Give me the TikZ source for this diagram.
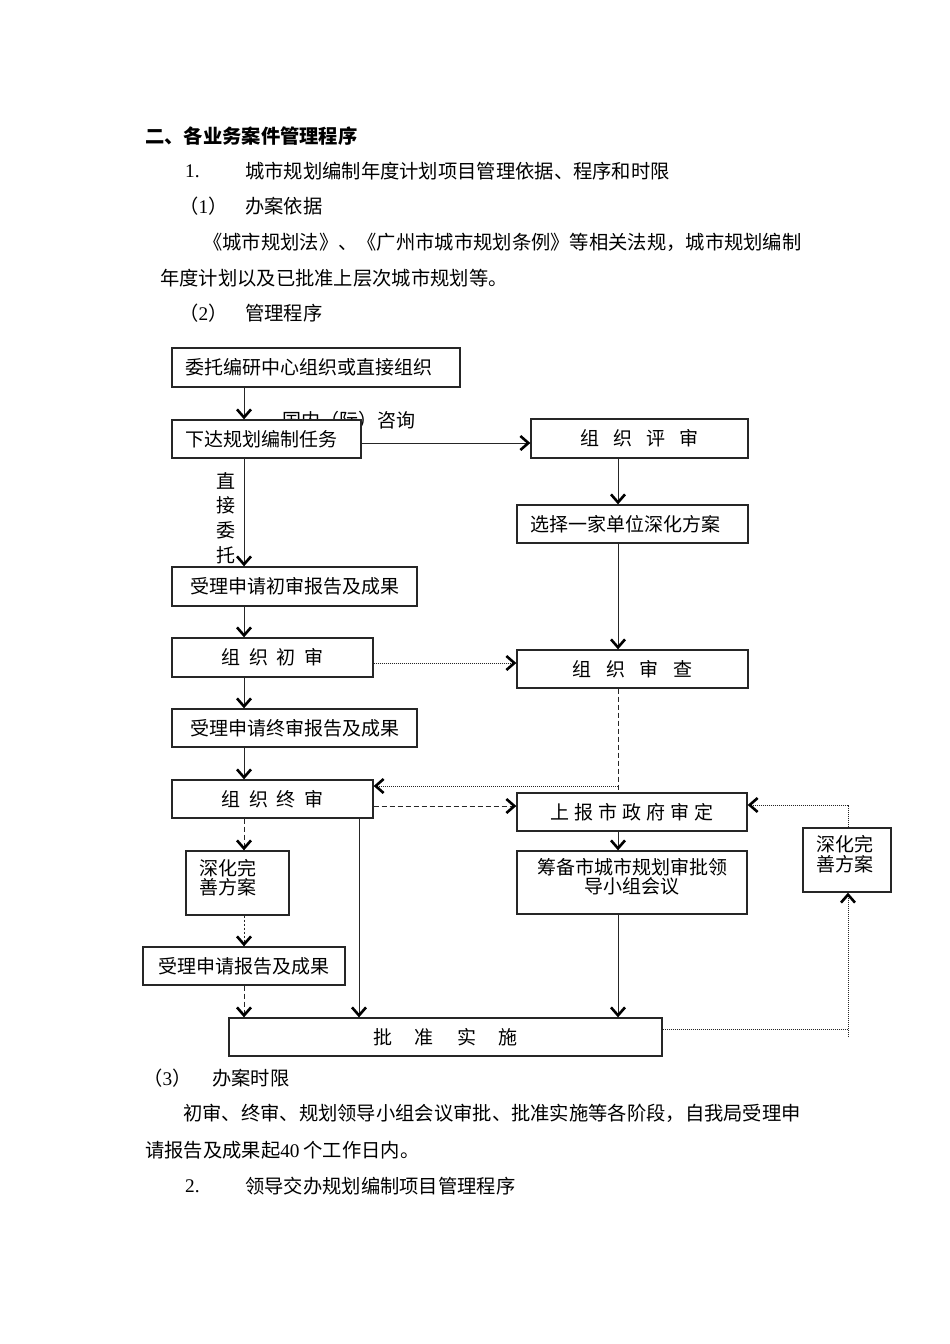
\documentclass[tikz,border=0pt]{standalone}
\usepackage{fontspec}
\setmainfont{Noto Sans CJK SC}
\newfontfamily\lat{Liberation Serif}
\usetikzlibrary{arrows.meta}
\begin{document}
\begin{tikzpicture}[x=1pt,y=-1pt,
  box/.style={draw=black!85,line width=1.3pt,fill=white,inner sep=0pt,font=\fontsize{19}{22}\selectfont},
  txt/.style={inner sep=0pt,font=\fontsize{19}{22}\selectfont},
  body/.style={inner sep=0pt,anchor=west,font=\fontsize{19.3}{22}\selectfont},
  two/.style={inner sep=0pt,font=\fontsize{19}{19.5}\selectfont},
  con/.style={draw=black!85,line width=1pt},
  arr/.style={-{Straight Barb[length=8pt,width=14pt,line width=2.6pt 0,black]}},
  fdot/.style={dash pattern=on 1pt off 1pt,line width=0.9pt},
  fdottwo/.style={dash pattern=on 2pt off 2pt,line width=0.9pt},
  ldash/.style={dash pattern=on 5pt off 3pt}]
\path[use as bounding box,fill=white] (0,0) rectangle (950,1344);

% ---------- body text ----------
\node[body,font=\fontsize{19.3}{22}\selectfont\bfseries] (t0) at (145,136) {二、各业务案件管理程序};
\node[body] (t1n) at (185,171) {{\lat 1.}};
\node[body] (t1) at (245,171) {城市规划编制年度计划项目管理依据、程序和时限};
\node[body] (t2n) at (179,206) {（{\lat 1}）};
\node[body] (t2) at (245,206) {办案依据};
\node[body] (t3) at (203,242) {《城市规划法》、《广州市城市规划条例》等相关法规，城市规划编制};
\node[body] (t4) at (160,278) {年度计划以及已批准上层次城市规划等。};
\node[body] (t5n) at (179,313) {（{\lat 2}）};
\node[body] (t5) at (245,313) {管理程序};
\node[body] (t6n) at (143,1078) {（{\lat 3}）};
\node[body] (t6) at (212,1078) {办案时限};
\node[body] (t7) at (183,1113) {初审、终审、规划领导小组会议审批、批准实施等各阶段，自我局受理申};
\node[body] (t8) at (145,1150) {请报告及成果起{\lat 40}\hspace{4pt}个工作日内。};
\node[body] (t9n) at (185,1186) {{\lat 2.}};
\node[body] (t9) at (245,1186) {领导交办规划编制项目管理程序};

% ---------- coordinates ----------
\coordinate (xA) at (244,0);
\coordinate (xB) at (359,0);
\coordinate (xR) at (618,0);
\coordinate (xRR) at (848,0);
\coordinate (yH) at (0,443);
\coordinate (yI) at (0,663);
\coordinate (yJ) at (0,786);
\coordinate (yJend) at (0,790);
\coordinate (yK) at (0,806);
\coordinate (yL) at (0,1029);
\coordinate (yLend) at (0,1037);
\coordinate (yM) at (0,805);

% ---------- label partly hidden behind box ----------
\node[txt] (lbl) at (349,420) {国内（际）咨询};

% ---------- left column ----------
\node[box,minimum width=288pt,minimum height=39pt,text width=262pt,align=left] (b1) at (316,367.5) {委托编研中心组织或直接组织};
\node[box,minimum width=189pt,minimum height=38pt,text width=163pt,align=left] (b2) at (266.5,439) {下达规划编制任务};
\node[box,minimum width=245pt,minimum height=39pt] (b3) at (294.5,586.5) {受理申请初审报告及成果};
\node[box,minimum width=201pt,minimum height=39pt] (b4) at (272.5,657.5) {组\hspace{8.5pt}织\hspace{8.5pt}初\hspace{8.5pt}审};
\node[box,minimum width=245pt,minimum height=38pt] (b5) at (294.5,728) {受理申请终审报告及成果};
\node[box,minimum width=201pt,minimum height=38pt] (b6) at (272.5,799) {组\hspace{8.5pt}织\hspace{8.5pt}终\hspace{8.5pt}审};
\node[box,minimum width=103pt,minimum height=64pt] (b7) at (237.5,883) {};
\node[two,anchor=west,align=left] (b7t) at (199,877.5) {深化完\\善方案};
\node[box,minimum width=202pt,minimum height=38pt] (b8) at (244,966) {受理申请报告及成果};
\node[box,minimum width=433pt,minimum height=38pt] (b9) at (445.5,1037) {批\hspace{23pt}准\hspace{23pt}实\hspace{23pt}施};

% ---------- right column ----------
\node[box,minimum width=217pt,minimum height=39pt] (r1) at (639.5,438.5) {组\hspace{14pt}织\hspace{14pt}评\hspace{14pt}审};
\node[box,minimum width=231pt,minimum height=38pt,text width=205pt,align=left] (r2) at (632.5,524) {选择一家单位深化方案};
\node[box,minimum width=231pt,minimum height=38pt] (r3) at (632.5,669) {组\hspace{14.5pt}织\hspace{14.5pt}审\hspace{14.5pt}查};
\node[box,minimum width=230pt,minimum height=38pt] (r4) at (632,812) {上\hspace{5pt}报\hspace{5pt}市\hspace{5pt}政\hspace{5pt}府\hspace{5pt}审\hspace{5pt}定};
\node[box,minimum width=230pt,minimum height=63pt] (r5) at (632,882.5) {};
\node[two,align=center] (r5t) at (632,877) {筹备市城市规划审批领\\导小组会议};
\node[box,minimum width=88pt,minimum height=64pt] (r6) at (847,860) {};
\node[two,align=left] (r6t) at (845,854) {深化完\\善方案};

% ---------- connectors ----------
\draw[con,arr] (b1.south -| xA) -- (b2.north -| xA);
\draw[con,arr] (b2.south -| xA) -- (b3.north -| xA);
\node[txt,align=center,font=\fontsize{19}{24.7}\selectfont] (zjwt) at (226,518) {直\\接\\委\\托};
\draw[con,arr] (b2.east |- yH) -- (r1.west |- yH);
\draw[con,arr] (r1.south -| xR) -- (r2.north -| xR);
\draw[con,arr] (r2.south -| xR) -- (r3.north -| xR);
\draw[con,arr] (b3.south -| xA) -- (b4.north -| xA);
\draw[con,arr] (b4.south -| xA) -- (b5.north -| xA);
\draw[con,arr] (b5.south -| xA) -- (b6.north -| xA);
\draw[con,fdot,arr] (b4.east |- yI) -- (r3.west |- yI);
\draw[con,ldash] (r3.south -| xR) -- (xR |- yJend);
\draw[con,fdot,arr] (xR |- yJ) -- (b6.east |- yJ);
\draw[con,ldash,arr] (b6.east |- yK) -- (r4.west |- yK);
\draw[con,arr] (r4.south -| xR) -- (r5.north -| xR);
\draw[con,arr] (r5.south -| xR) -- (b9.north -| xR);
\draw[con,arr] (b6.south -| xB) -- (b9.north -| xB);
\draw[con,ldash,arr] (b6.south -| xA) -- (b7.north -| xA);
\draw[con,fdottwo,arr] (b7.south -| xA) -- (b8.north -| xA);
\draw[con,ldash,arr] (b8.south -| xA) -- (b9.north -| xA);
\draw[con,fdot] (b9.east |- yL) -- (xRR |- yL);
\draw[con,fdot,arr] (xRR |- yLend) -- (r6.south -| xRR);
\draw[con,fdot,arr] (r6.north -| xRR) -- (xRR |- yM) -- (r4.east |- yM);
\end{tikzpicture}
\end{document}
